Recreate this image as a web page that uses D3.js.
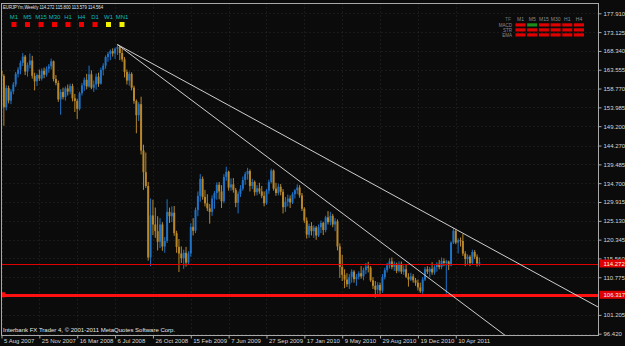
<!DOCTYPE html>
<html>
<head>
    <meta charset="utf-8">
    <title>EURJPYm,Weekly</title>
    <style>
body { margin: 0; background: #0b0b0b; }
svg { display: block; }
text { font-family: "Liberation Sans", Arial, sans-serif; }
.axis text { fill: #d6d6d6; font-size: 6px; }
.axis line { stroke: #a8a8a8; }
.axis path { display: none; }
.grid line { stroke: #2a2a2a; stroke-dasharray: 1,3; }
</style>
</head>
<body>
<script src="https://d3js.org/d3.v7.min.js"></script>
<script>
// chart window, MT4 style
var totalWidth = 625, totalHeight = 346;
var frame = { left: 1.5, top: 3.5, right: 598.5, bottom: 335.5 };

var symbol = "EURJPYm,Weekly";
var lastBar = "114.272 115.800 113.579 114.564";
var copyright = "Interbank FX Trader 4, \u00a9 2001-2011 MetaQuotes Software Corp.";
var firstWeek = "2007-08-05";

// weekly bars, Aug 2007 - Jun 2011
var opens = [
 163.3,162.0,154.0,158.9,155.7,158.0,159.8,162.5,163.6,165.3,
 166.9,163.1,164.8,165.9,162.0,160.6,162.2,161.3,163.3,162.3,
 163.8,164.4,165.7,161.2,160.2,156.0,157.9,156.6,158.8,158.0,
 159.4,156.3,155.6,153.6,157.6,159.6,161.0,159.3,162.4,159.0,
 159.8,161.8,160.0,163.5,164.6,166.8,167.6,168.3,167.7,168.9,
 169.3,167.8,166.2,163.0,160.8,162.5,159.0,155.6,152.0,154.8,
 143.0,137.5,134.0,115.8,126.5,124.2,122.5,119.8,124.2,118.6,
 120.0,127.4,126.3,127.2,122.0,118.5,116.8,115.6,117.0,114.5,
 116.8,123.6,122.6,127.9,131.5,135.8,131.2,129.6,128.3,127.4,
 130.8,132.2,134.3,132.6,130.1,136.3,137.6,133.6,134.4,133.0,
 129.7,132.0,133.3,135.5,137.0,137.8,134.0,135.0,132.4,133.4,
 132.6,131.5,129.6,132.8,135.0,137.9,133.3,132.2,133.8,132.5,
 128.6,130.0,130.8,129.8,131.9,132.9,133.6,131.6,128.2,125.2,
 121.6,123.8,122.5,123.4,121.4,123.5,124.6,122.8,126.0,124.8,
 126.4,124.2,125.0,118.6,113.4,111.4,110.2,109.0,110.8,112.2,
 110.3,110.9,111.8,111.0,112.6,113.5,113.2,110.0,108.6,107.6,
 108.8,107.4,110.8,112.6,113.8,114.8,113.4,114.2,112.4,114.2,
 112.2,112.8,110.9,110.2,111.0,110.0,109.4,108.2,107.2,110.2,
 112.8,112.2,112.9,112.0,113.4,114.2,113.4,114.9,114.4,114.8,
 113.8,119.6,122.6,119.6,120.2,120.0,116.8,115.4,116.0,114.4,
 117.2,116.0,114.272];
var highs = [
 164.6,162.4,159.6,159.5,158.6,160.4,163.0,164.2,165.9,167.8,
 167.3,165.4,167.7,167.1,162.8,162.6,163.6,163.9,164.1,164.4,
 165.0,166.4,165.9,162.2,160.8,158.6,159.0,159.3,159.8,160.0,
 160.0,157.4,156.2,158.0,160.2,161.6,162.5,164.6,163.4,160.8,
 162.6,162.8,164.1,165.2,167.2,168.1,168.7,169.0,169.2,169.96,
 169.6,168.8,166.8,163.6,163.1,162.9,159.5,156.0,155.3,156.7,
 144.5,142.5,135.0,130.8,130.5,128.5,126.3,125.8,124.8,121.0,
 130.6,128.5,128.8,128.9,122.6,120.5,118.6,117.8,118.5,117.4,
 124.5,125.8,128.5,132.6,137.0,136.4,133.0,131.9,129.4,131.6,
 132.7,134.9,135.0,134.2,137.0,138.9,137.9,135.9,136.0,133.5,
 132.6,134.2,136.4,137.6,138.6,138.2,135.8,135.4,134.2,134.8,
 134.0,132.6,133.2,135.6,138.4,138.2,134.8,134.6,134.5,133.2,
 131.2,131.8,131.6,132.4,133.2,134.4,134.2,132.2,128.6,126.0,
 124.4,124.8,124.0,123.8,124.2,125.2,124.9,126.4,127.6,127.4,
 126.9,125.8,125.5,119.4,116.5,112.8,111.8,111.6,112.8,112.6,
 111.6,112.3,113.6,113.2,114.4,114.7,113.6,110.8,109.8,109.5,
 109.4,111.6,113.2,114.4,115.6,115.8,114.8,114.5,114.8,114.8,
 113.8,114.0,111.8,111.9,111.6,110.6,110.2,109.4,110.8,113.4,
 113.6,113.4,114.6,113.8,114.6,115.2,115.8,115.6,115.2,115.0,
 119.9,123.3,123.0,120.7,120.9,121.8,117.4,116.6,116.4,117.8,
 117.7,116.6,115.8];
var lows = [
 161.2,149.3,153.2,155.0,154.8,157.3,159.2,161.6,162.4,164.5,
 162.2,161.8,163.9,161.3,158.3,159.4,160.7,160.8,161.4,161.8,
 162.8,163.6,160.6,159.6,155.4,152.1,156.0,155.7,157.0,157.3,
 155.5,152.8,151.0,153.2,157.0,158.2,158.6,159.0,158.6,157.9,
 158.5,159.2,159.8,162.1,163.8,165.6,166.0,166.9,166.3,167.3,
 166.0,165.6,161.6,159.8,159.5,158.3,154.9,147.4,150.5,142.0,
 133.0,133.5,115.0,113.6,121.5,120.8,117.6,118.2,117.5,117.0,
 119.5,124.6,124.8,121.3,117.0,112.1,114.4,112.9,113.5,114.0,
 116.0,121.4,122.0,126.3,130.0,130.5,128.8,127.6,124.4,126.4,
 128.2,130.5,130.6,128.4,129.6,135.3,132.8,132.8,132.3,128.6,
 127.0,131.2,132.8,134.3,135.6,132.6,133.2,131.5,131.6,132.0,
 130.9,128.8,129.2,132.0,134.6,132.8,131.5,131.6,131.6,127.0,
 127.4,128.8,128.4,129.4,130.8,131.9,131.0,127.6,124.6,120.6,
 120.8,121.4,120.8,120.3,121.0,122.0,121.5,122.2,124.2,124.0,
 123.5,122.5,117.6,110.6,109.8,108.0,108.3,107.8,109.4,109.4,
 108.6,110.2,110.4,110.0,111.6,112.0,109.6,107.8,105.6,106.6,
 106.4,106.8,110.2,112.0,113.0,112.8,112.4,111.8,112.0,111.6,
 111.4,110.6,108.4,109.8,109.4,108.6,107.4,106.8,106.6,109.8,
 111.6,110.8,111.4,111.4,112.2,112.8,112.8,113.6,106.6,112.6,
 113.6,119.2,119.2,116.8,118.6,116.2,113.6,114.0,113.6,114.0,
 115.4,113.5,113.579];
var closes = [
 162.0,154.0,158.9,155.7,158.0,159.8,162.5,163.6,165.3,166.9,
 163.1,164.8,165.9,162.0,160.6,162.2,161.3,163.3,162.3,163.8,
 164.4,165.7,161.2,160.2,156.0,157.9,156.6,158.8,158.0,159.4,
 156.3,155.6,153.6,157.6,159.6,161.0,159.3,162.4,159.0,159.8,
 161.8,160.0,163.5,164.6,166.8,167.6,168.3,167.7,168.9,169.3,
 167.8,166.2,163.0,160.8,162.5,159.0,155.6,152.0,154.8,143.0,
 137.5,134.0,115.8,126.5,124.2,122.5,119.8,124.2,118.6,120.0,
 127.4,126.3,127.2,122.0,118.5,116.8,115.6,117.0,114.5,116.8,
 123.6,122.6,127.9,131.5,135.8,131.2,129.6,128.3,127.4,130.8,
 132.2,134.3,132.6,130.1,136.3,137.6,133.6,134.4,133.0,129.7,
 132.0,133.3,135.5,137.0,137.8,134.0,135.0,132.4,133.4,132.6,
 131.5,129.6,132.8,135.0,137.9,133.3,132.2,133.8,132.5,128.6,
 130.0,130.8,129.8,131.9,132.9,133.6,131.6,128.2,125.2,121.6,
 123.8,122.5,123.4,121.4,123.5,124.6,122.8,126.0,124.8,126.4,
 124.2,125.0,118.6,113.4,111.4,110.2,109.0,110.8,112.2,110.3,
 110.9,111.8,111.0,112.6,113.5,113.2,110.0,108.6,107.6,108.8,
 107.4,110.8,112.6,113.8,114.8,113.4,114.2,112.4,114.2,112.2,
 112.8,110.9,110.2,111.0,110.0,109.4,108.2,107.2,110.2,112.8,
 112.2,112.9,112.0,113.4,114.2,113.4,114.9,114.4,114.8,113.8,
 119.6,122.6,119.6,120.2,120.0,116.8,115.4,116.0,114.4,117.2,
 116.0,114.3,114.564];

// 105.990 sits under the red level box, so it is not drawn
var priceTicks = [177.910, 173.125, 168.340, 163.555, 158.770, 153.985, 149.200, 144.270, 139.485,
                  134.700, 129.915, 125.130, 120.345, 115.560, 110.775, 101.205, 96.420];
var dateTicks = ["5 Aug 2007", "25 Nov 2007", "16 Mar 2008", "6 Jul 2008", "26 Oct 2008", "15 Feb 2009",
                 "7 Jun 2009", "27 Sep 2009", "17 Jan 2010", "9 May 2010", "29 Aug 2010", "19 Dec 2010", "10 Apr 2011"];

// user objects: two horizontal levels and two trend lines (bar index, price)
var levelThin = 114.272, levelThick = 106.317;
var trendUpper = [[49, 169.96], [191, 123.3]];
var trendLower = [[49, 169.96], [200, 101.8]];

// indicator panels
var tfNames = ["M1", "M5", "M15", "M30", "H1", "H4", "D1", "W1", "MN1"];
var tfState = ["dn", "dn", "dn", "dn", "dn", "dn", "dn", "flat", "flat"];
var panelCols = ["M1", "M5", "M15", "M30", "H1", "H4"];
var panelRows = ["MACD", "STR", "EMA"];
var panelState = [["dn", "up", "dn", "dn", "dn", "dn"],
                  ["dn", "dn", "dn", "dn", "dn", "dn"],
                  ["dn", "dn", "dn", "dn", "dn", "dn"]];

var bull = "#1f72c6", bear = "#b8872a";

var svg = d3.select("body").append("svg")
    .attr("width", totalWidth)
    .attr("height", totalHeight)
    .style("background", "#0b0b0b");

var weekParse = d3.utcParse("%Y-%m-%d"), tickParse = d3.utcParse("%d %b %Y");
var start = weekParse(firstWeek);
var barDate = function (i) { return d3.utcWeek.offset(start, i); };

// 2.366 px per week, the right margin is left empty like in the terminal
var x = d3.scaleUtc()
    .domain([start, barDate(252)])
    .range([1.5, 1.5 + 2.366 * 252]);
var y = d3.scaleLinear()
    .domain([96.42, 177.91])
    .range([333.7, 13.3]);

var tickDates = dateTicks.map(function (s) { return tickParse(s); });
var snap = function (v) { return Math.round(v) + 0.5; };

// faint dotted grid
var grid = svg.append("g").attr("class", "grid");
grid.selectAll(".gy").data(priceTicks).enter().append("line")
    .attr("x1", frame.left).attr("x2", frame.right)
    .attr("y1", function (d) { return snap(y(d)); })
    .attr("y2", function (d) { return snap(y(d)); });
grid.selectAll(".gx").data(tickDates).enter().append("line")
    .attr("y1", frame.top).attr("y2", frame.bottom)
    .attr("x1", function (d) { return snap(x(d)); })
    .attr("x2", function (d) { return snap(x(d)); });

svg.append("clipPath").attr("id", "plot").append("rect")
    .attr("x", frame.left).attr("y", frame.top)
    .attr("width", frame.right - frame.left).attr("height", frame.bottom - frame.top);

var plot = svg.append("g").attr("clip-path", "url(#plot)");

// candles
var bars = d3.range(closes.length);
var colorOf = function (i) { return closes[i] >= opens[i] ? bull : bear; };
plot.selectAll(".wick").data(bars).enter().append("line")
    .attr("x1", function (i) { return x(barDate(i)); })
    .attr("x2", function (i) { return x(barDate(i)); })
    .attr("y1", function (i) { return y(highs[i]); })
    .attr("y2", function (i) { return y(lows[i]); })
    .attr("stroke", colorOf)
    .attr("stroke-width", 1);
plot.selectAll(".body").data(bars).enter().append("rect")
    .attr("x", function (i) { return x(barDate(i)) - 1; })
    .attr("width", 2)
    .attr("y", function (i) { return y(Math.max(opens[i], closes[i])); })
    .attr("height", function (i) { return Math.max(1, Math.abs(y(opens[i]) - y(closes[i]))); })
    .attr("fill", colorOf);

// horizontal levels
plot.append("line")
    .attr("x1", frame.left).attr("x2", frame.right)
    .attr("y1", snap(y(levelThin))).attr("y2", snap(y(levelThin)))
    .attr("stroke", "#e00000").attr("stroke-width", 1)
    .attr("shape-rendering", "crispEdges");
plot.append("line")
    .attr("x1", frame.left).attr("x2", frame.right)
    .attr("y1", snap(y(levelThick))).attr("y2", snap(y(levelThick)))
    .attr("stroke", "#ff1010").attr("stroke-width", 3)
    .attr("shape-rendering", "crispEdges");
plot.append("rect")
    .attr("x", frame.left).attr("y", y(levelThick) - 2.5)
    .attr("width", 4).attr("height", 5).attr("fill", "#ff1010");

// trend lines, extended as rays to the right
function ray(pts) {
    var x1 = x(barDate(pts[0][0])), y1 = y(pts[0][1]);
    var x2 = x(barDate(pts[1][0])), y2 = y(pts[1][1]);
    var k = (y2 - y1) / (x2 - x1);
    var xe = frame.right + 10;
    return [x1, y1, xe, y1 + k * (xe - x1)];
}
[trendUpper, trendLower].forEach(function (t) {
    var r = ray(t);
    plot.append("line")
        .attr("x1", r[0]).attr("y1", r[1]).attr("x2", r[2]).attr("y2", r[3])
        .attr("stroke", "#cfcfcf").attr("stroke-width", 1);
});

// frame
svg.append("rect")
    .attr("x", frame.left).attr("y", frame.top)
    .attr("width", frame.right - frame.left).attr("height", frame.bottom - frame.top)
    .attr("fill", "none").attr("stroke", "#a8a8a8").attr("stroke-width", 1);

// price axis
svg.append("g")
    .attr("class", "axis")
    .attr("transform", "translate(" + frame.right + ",0)")
    .call(d3.axisRight(y).tickValues(priceTicks).tickSize(3).tickPadding(2).tickFormat(d3.format(".3f")));

// time axis
var xAxis = svg.append("g")
    .attr("class", "axis")
    .attr("transform", "translate(0," + frame.bottom + ")")
    .call(d3.axisBottom(x).tickValues(tickDates).tickSize(3).tickPadding(1).tickFormat(d3.utcFormat("%-d %b %Y")));
xAxis.selectAll("text").attr("text-anchor", "start").attr("x", 2).attr("y", 3).attr("dy", "0.71em");

// level labels on the price scale
[levelThin, levelThick].forEach(function (v) {
    svg.append("rect")
        .attr("x", frame.right + 1).attr("y", y(v) - 4)
        .attr("width", 26).attr("height", 8).attr("fill", "#e00000");
    svg.append("text")
        .attr("x", frame.right + 5).attr("y", y(v)).attr("dy", "0.35em")
        .attr("fill", "#f4f4f4").attr("font-size", 6)
        .text(d3.format(".3f")(v));
});

// header
svg.append("text")
    .attr("x", 3).attr("y", 9)
    .attr("fill", "#e6e6e6").attr("font-size", 5)
    .attr("textLength", 100).attr("lengthAdjust", "spacingAndGlyphs")
    .text(symbol + "  " + lastBar);

svg.append("text")
    .attr("x", 3).attr("y", 332)
    .attr("fill", "#e6e6e6").attr("font-size", 6)
    .text(copyright);

// timeframe signal squares, top left
var tf = svg.append("g");
tf.selectAll("text").data(tfNames).enter().append("text")
    .attr("x", function (d, i) { return 14 + i * 13.5; })
    .attr("y", 19)
    .attr("text-anchor", "middle")
    .attr("fill", "#10b8b8").attr("font-size", 6)
    .text(function (d) { return d; });
tf.selectAll("rect").data(tfState).enter().append("rect")
    .attr("x", function (d, i) { return 11.5 + i * 13.5; })
    .attr("y", 22).attr("width", 5).attr("height", 5)
    .attr("fill", function (d) { return d === "dn" ? "#ee0000" : "#f2f200"; });

// signal table, top right
var panel = svg.append("g");
panel.selectAll(".ph").data(panelCols).enter().append("text")
    .attr("x", function (d, i) { return 520.5 + i * 11.7; })
    .attr("y", 20.5).attr("text-anchor", "middle")
    .attr("fill", "#8c8c8c").attr("font-size", 5)
    .text(function (d) { return d; });
panel.append("text")
    .attr("x", 511).attr("y", 20.5).attr("text-anchor", "end")
    .attr("fill", "#6c6c6c").attr("font-size", 5).text("TF");
panelRows.forEach(function (r, j) {
    panel.append("text")
        .attr("x", 512).attr("y", 26.5 + j * 5).attr("text-anchor", "end")
        .attr("fill", "#8c8c8c").attr("font-size", 4.5).text(r);
    panel.selectAll(".pr" + j).data(panelState[j]).enter().append("rect")
        .attr("x", function (d, i) { return 515.5 + i * 11.7; })
        .attr("y", 23.3 + j * 5).attr("width", 10).attr("height", 3.2)
        .attr("fill", function (d) { return d === "up" ? "#1c8c1c" : "#e00000"; });
});
</script>
</body>
</html>
